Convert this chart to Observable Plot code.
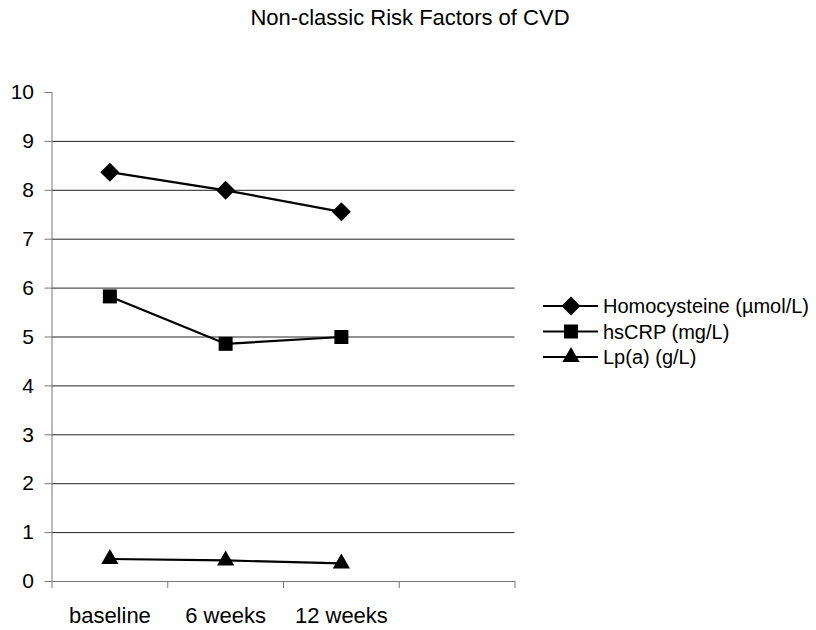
<!DOCTYPE html>
<html>
<head>
<meta charset="utf-8">
<script src="https://cdn.jsdelivr.net/npm/d3@7"></script>
<script src="https://cdn.jsdelivr.net/npm/@observablehq/plot@0.6"></script>
<style>
  html, body { margin: 0; padding: 0; background: #fff; }
  #chart svg { display: block; }
</style>
</head>
<body>
<div id="chart"></div>
<script>
const title = "Non-classic Risk Factors of CVD";
const categories = ["baseline", "6 weeks", "12 weeks", ""];
const seriesNames = ["Homocysteine (µmol/L)", "hsCRP (mg/L)", "Lp(a) (g/L)"];
const seriesSymbols = ["diamond2", "square", "triangle"];
const homocysteine = [8.37, 8.0, 7.56];
const hsCRP = [5.83, 4.86, 5.0];
const lpa = [0.46, 0.43, 0.37];
const yTicks = [0, 1, 2, 3, 4, 5, 6, 7, 8, 9, 10];
const gridTicks = [1, 2, 3, 4, 5, 6, 7, 8, 9];

const seriesValues = [homocysteine, hsCRP, lpa];
const data = seriesValues.flatMap((vals, s) =>
  vals.map((v, i) => ({series: seriesNames[s], symbol: seriesSymbols[s], i, v}))
);
const rVals = {diamond2: 8.6, square: 7.9, triangle: 6.4};

const font = "Liberation Sans, Arial, sans-serif";
const edgeTicks = d3.range(categories.length + 1).map(k => k - 0.5);

const plot = Plot.plot({
  width: 816,
  height: 630,
  marginLeft: 51.5,
  marginRight: 301.5,
  marginTop: 92,
  marginBottom: 49,
  style: {fontFamily: font, background: "#fff", color: "#000"},
  x: {type: "linear", domain: [-0.5, categories.length - 0.5], axis: null},
  y: {domain: [0, 10], axis: null},
  symbol: {type: "identity"},
  r: {type: "identity"},
  marks: [
    Plot.gridY(gridTicks, {stroke: "#222", strokeOpacity: 1, strokeWidth: 1}),
    Plot.axisY({ticks: yTicks, tickSize: 7, tickPadding: 11, fontSize: 21, stroke: "#777", fill: "#000", label: null}),
    Plot.axisX({ticks: edgeTicks, tickSize: 7, tickFormat: () => "", stroke: "#777", label: null}),
    Plot.axisX({ticks: d3.range(categories.length), tickSize: 0, tickPadding: 26, fontSize: 22, tickFormat: i => categories[i], fill: "#000", label: null}),
    Plot.ruleX([-0.5], {stroke: "#777", strokeWidth: 1}),
    Plot.ruleY([0], {stroke: "#777", strokeWidth: 1}),
    Plot.line(data, {x: "i", y: "v", z: "series", stroke: "#000", strokeWidth: 2.2}),
    Plot.dot(data, {x: "i", y: "v", symbol: "symbol", r: d => rVals[d.symbol], fill: "#000", stroke: "none"})
  ]
});

document.getElementById("chart").appendChild(plot);

const svg = d3.select(plot);
svg.append("text")
  .attr("x", 410).attr("y", 25)
  .attr("text-anchor", "middle")
  .attr("font-family", font).attr("font-size", 22).attr("fill", "#000")
  .text(title);

const leg = svg.append("g").attr("transform", "translate(543,306)");
seriesNames.forEach((name, k) => {
  const g = leg.append("g").attr("transform", `translate(0,${k * 25.5})`);
  g.append("line").attr("x1", 0).attr("x2", 55).attr("y1", 0).attr("y2", 0)
    .attr("stroke", "#000").attr("stroke-width", 2.2);
  const symMap = {diamond2: d3.symbolDiamond2, square: d3.symbolSquare, triangle: d3.symbolTriangle};
  const r = rVals[seriesSymbols[k]];
  g.append("path").attr("transform", "translate(28,0)")
    .attr("d", d3.symbol(symMap[seriesSymbols[k]], Math.PI * r * r)())
    .attr("fill", "#000");
  g.append("text").attr("x", 60).attr("y", 0).attr("dy", "0.35em")
    .attr("text-anchor", "start")
    .attr("font-family", font).attr("font-size", 20).attr("fill", "#000")
    .text(name);
});
</script>
</body>
</html>
